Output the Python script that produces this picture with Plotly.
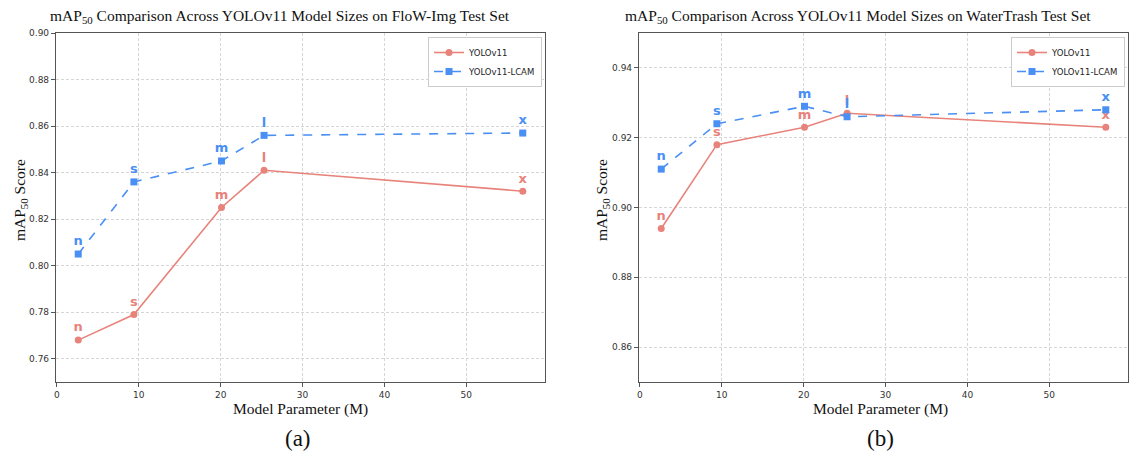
import plotly.graph_objects as go

sizes = ["n", "s", "m", "l", "x"]
params = [2.6, 9.4, 20.1, 25.3, 56.9]

flow_yolo = [0.768, 0.779, 0.825, 0.841, 0.832]
flow_lcam = [0.805, 0.836, 0.845, 0.856, 0.857]
water_yolo = [0.894, 0.918, 0.923, 0.927, 0.923]
water_lcam = [0.911, 0.924, 0.929, 0.926, 0.928]

titles = [
    "mAP<sub>50</sub> Comparison Across YOLOv11 Model Sizes on FloW-Img Test Set",
    "mAP<sub>50</sub> Comparison Across YOLOv11 Model Sizes on WaterTrash Test Set",
]

RED = "#e8837b"
BLUE = "#4a8ff4"
W, H = 1137, 455
OFF = 8  # page body margin

def px(x):
    return (x - OFF) / W

def py(y):
    return 1 - (y - OFF) / H

fig = go.Figure()

panels = [
    dict(yolo=flow_yolo, lcam=flow_lcam, xa="x", ya="y", leg="legend"),
    dict(yolo=water_yolo, lcam=water_lcam, xa="x2", ya="y2", leg="legend2"),
]

for p in panels:
    fig.add_trace(go.Scatter(
        x=params, y=p["yolo"], name="YOLOv11", mode="lines+markers+text",
        text=sizes, textposition="top center",
        textfont=dict(family="DejaVu Sans", size=13, color=RED, weight="bold"),
        line=dict(color=RED, width=1.6), marker=dict(symbol="circle", size=7, color=RED),
        xaxis=p["xa"], yaxis=p["ya"], legend=p["leg"], cliponaxis=False,
    ))
    fig.add_trace(go.Scatter(
        x=params, y=p["lcam"], name="YOLOv11-LCAM", mode="lines+markers+text",
        text=sizes, textposition="top center",
        textfont=dict(family="DejaVu Sans", size=13, color=BLUE, weight="bold"),
        line=dict(color=BLUE, width=1.6, dash="dash"), marker=dict(symbol="square", size=7, color=BLUE),
        xaxis=p["xa"], yaxis=p["ya"], legend=p["leg"], cliponaxis=False,
    ))

axis_common = dict(
    showline=True, linecolor="#555", linewidth=1.2, mirror=True,
    showgrid=True, gridcolor="#d6d6d6", griddash="3px,2px", gridwidth=1,
    ticks="outside", ticklen=4, tickcolor="#555",
    tickfont=dict(family="DejaVu Sans", size=9, color="#333"),
    zeroline=False, automargin=False,
)

ydom = [py(382), py(33)]
leg_common = dict(xanchor="right", yanchor="top",
                  bgcolor="white", bordercolor="#cccccc", borderwidth=1,
                  font=dict(family="DejaVu Sans", size=8.5, color="#222"),
                  tracegroupgap=0, itemwidth=30)
fig.update_layout(
    width=W, height=H, margin=dict(l=0, r=0, t=0, b=0, autoexpand=False),
    paper_bgcolor="white", plot_bgcolor="white",
    showlegend=True,
    xaxis=dict(domain=[px(56), px(545)], range=[-0.115, 59.615], dtick=10, anchor="y", **axis_common),
    yaxis=dict(domain=ydom, range=[0.75, 0.90], dtick=0.02, tickformat=".2f", anchor="x", **axis_common),
    xaxis2=dict(domain=[px(639), px(1128)], range=[-0.115, 59.615], dtick=10, anchor="y2", **axis_common),
    yaxis2=dict(domain=ydom, range=[0.85, 0.95], dtick=0.02, tickformat=".2f", anchor="x2", **axis_common),
    legend=dict(x=px(542), y=py(37), **leg_common),
    legend2=dict(x=px(1125), y=py(37), **leg_common),
)

serif = "Liberation Serif"

def note(text, x, y, size, angle=0):
    return dict(text=text, x=px(x), y=py(y), xref="paper", yref="paper",
                xanchor="center", yanchor="middle", showarrow=False, textangle=angle,
                font=dict(family=serif, size=size, color="#111"))

ann = [
    note(titles[0], 280, 16, 15.5),
    note(titles[1], 858, 16, 15.5),
    note("Model Parameter (M)", 300, 409, 15.5),
    note("Model Parameter (M)", 881, 409, 15.5),
    note("mAP<sub>50</sub> Score", 20, 200, 15.5, -90),
    note("mAP<sub>50</sub> Score", 602, 200, 15.5, -90),
    note("(a)", 298, 438, 23),
    note("(b)", 880, 438, 23),
]
fig.update_layout(annotations=ann)

fig.write_html("out.html")
